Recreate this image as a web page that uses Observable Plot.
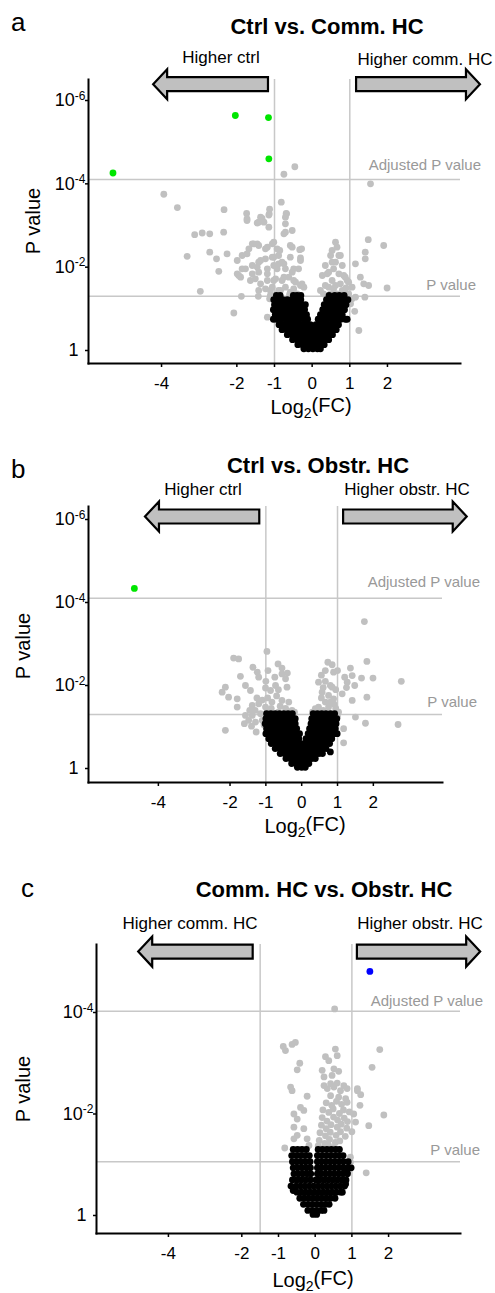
<!DOCTYPE html>
<html><head><meta charset="utf-8">
<script src="https://cdn.jsdelivr.net/npm/d3@7"></script>
<script src="https://cdn.jsdelivr.net/npm/@observablehq/plot@0.6"></script>
<style>
body{margin:0;background:#fff;}
svg{display:block;}
g[aria-label="x-axis tick label"] text{font-size:17px;}
g[aria-label="y-axis tick label"] text{font-size:18px;}
</style>
</head><body><div id="chart"></div>
<script>
// ---------- data (log2FC, -log10 P) ----------
const panelLetters = ["a", "b", "c"];
const titles = ["Ctrl vs. Comm. HC", "Ctrl vs. Obstr. HC", "Comm. HC vs. Obstr. HC"];
const leftLabels = ["Higher ctrl", "Higher ctrl", "Higher comm. HC"];
const rightLabels = ["Higher comm. HC", "Higher obstr. HC", "Higher obstr. HC"];
const xTicks = [-4, -2, -1, 0, 1, 2];
const yTicks = [[1e-6, 1e-4, 1e-2, 1], [1e-6, 1e-4, 1e-2, 1], [1e-4, 1e-2, 1]];
const fcCutoffs = [[-1, 1], [-1, 1], [-1.5, 1]];
const pCutoffs = [0.05, 0.05, 0.087];
const adjCutoffs = [7.9e-5, 7.9e-5, 9.5e-5];

const grayA = [
[-0.75,4.23],[-0.46,4.41],[1.55,4.0],[-3.94,3.75],[-3.58,3.43],[-2.34,3.38],[-0.82,3.56],[-0.69,3.29],[-1.13,3.39],[-1.15,3.25],[-1.74,3.29],[-1.33,3.17],
[-1.73,3.12],[-1.42,3.08],[-1.15,2.96],[-0.71,3.04],[-0.71,3.2],[-0.71,2.84],[-0.53,2.88],
[-1.73,3.16],[-1.37,3.2],[-1.14,3.28],[-0.68,3.28],[-1.46,3.06],[-1.28,3.08],[-0.75,2.8],
[-3.12,2.78],[-2.92,2.82],[-2.72,2.8],[-2.35,2.84],[-3.32,2.26],[-2.72,2.36],[-2.54,2.2],[-2.26,2.32],[-2.48,1.9],[-2.97,1.42],[-2.08,0.9],
[-1.99,2.16],[-1.99,1.84],[-1.88,1.3],[-1.43,1.3],[-1.19,0.8],[-1.55,2.56],[-1.68,2.44],[-1.73,2.32],[-1.46,2.56],[-1.19,2.48],[-1.02,2.6],[-0.86,2.4],[-0.58,2.52],[-0.33,2.42],[-0.58,2.24],[-0.75,2.08],[-0.49,1.96],[-0.31,2.16],[-1.46,2.0],[-1.19,1.84],[-0.93,1.96],[-1.02,1.68],[-0.75,1.76],[-0.49,1.68],[-0.27,1.6],[-0.22,1.52],[-1.37,1.6],[-1.64,1.68],[-1.9,1.76],[-1.11,1.44],[-0.84,1.44],[-0.58,1.4],[-1.13,1.24],[-1.37,2.16],[-1.02,2.24],[-0.89,2.08],
[-1.86,2.28],[-1.59,2.56],[-1.42,2.52],[-1.24,2.44],[-1.06,2.56],[-0.93,2.44],[-0.89,2.28],[-1.06,2.24],[-1.24,2.2],[-1.42,2.12],[-1.59,2.04],[-1.77,1.96],[-1.95,1.8],[-1.59,1.84],[-1.42,1.88],[-1.19,1.96],[-1.02,2.04],[-0.8,2.12],[-0.71,1.96],[-0.53,1.88],[-0.36,1.96],[-0.62,1.76],[-0.8,1.68],[-0.97,1.72],[-1.19,1.68],[-1.51,1.72],[-1.24,1.48],[-1.06,1.52],[-0.89,1.44],[-0.71,1.52],[-0.49,1.48],[-0.31,1.56],[-0.44,1.64],[-1.42,1.44],[-1.11,1.32],[-1.86,1.96],[-0.28,2.44],[-0.31,2.22],[-0.53,2.48],[-0.6,1.34],[-0.4,1.36],[-0.95,1.34],
[0.62,2.6],[0.66,2.48],[0.71,2.28],[0.53,2.12],[0.8,2.04],[0.57,1.96],[0.4,1.84],[0.27,1.8],[0.71,1.84],[0.88,1.76],[0.53,1.68],[0.75,1.6],[0.97,1.64],[0.35,1.56],[0.57,1.48],[0.8,1.44],[0.49,1.36],[1.06,1.52],[1.15,1.28],[1.28,1.76],[1.37,1.6],[1.5,1.56],[1.15,2.08],[1.41,2.36],[1.41,2.2],[1.49,2.66],[1.9,2.52],[1.99,1.5],[1.13,0.94],[1.24,0.48],[1.06,1.24],[1.02,1.12],
[0.49,2.28],[0.75,2.28],[0.62,2.12],[0.44,1.88],[0.84,1.8],[0.93,1.68],[0.22,1.44],[0.66,1.36],[0.97,1.36],[0.35,2.04],[0.53,2.4],[1.4,1.28],[0.3,1.36],[0.85,1.36],[0.44,1.52],[0.62,1.56],[0.9,1.5]
];
const blackA = [
[1.32,[-0.95,-0.85,-0.5,-0.4,-0.3,0.45,0.6,0.72,0.85]],
[1.22,[-1.02,-0.9,-0.78,-0.66,-0.54,-0.42,-0.3,0.38,0.5,0.62,0.74,0.86,0.95]],
[1.1,[-1.0,-0.88,-0.76,-0.64,-0.52,-0.4,-0.28,-0.18,0.32,0.44,0.56,0.68,0.8,0.9]],
[0.98,[-1.03,-0.9,-0.78,-0.66,-0.54,-0.42,-0.3,-0.2,0.28,0.4,0.52,0.64,0.76,0.86]],
[0.86,[-0.98,-0.86,-0.74,-0.62,-0.5,-0.38,-0.26,-0.15,0.22,0.34,0.46,0.58,0.7,0.8]],
[0.75,[-1.03,-0.95,-0.82,-0.7,-0.58,-0.46,-0.34,-0.22,-0.12,0.16,0.28,0.4,0.52,0.64,0.76,0.88,0.93]],
[0.62,[-0.88,-0.76,-0.64,-0.52,-0.4,-0.28,-0.16,-0.05,0.1,0.22,0.34,0.46,0.58,0.7]],
[0.5,[-0.8,-0.68,-0.56,-0.44,-0.32,-0.2,-0.08,0.04,0.16,0.28,0.4,0.52,0.64]],
[0.38,[-0.66,-0.54,-0.42,-0.3,-0.18,-0.06,0.06,0.18,0.3,0.42,0.54]],
[0.26,[-0.52,-0.4,-0.28,-0.16,-0.04,0.08,0.2,0.32,0.44]],
[0.14,[-0.38,-0.26,-0.14,-0.02,0.1,0.22,0.32]],
[0.04,[-0.22,-0.1,0.02,0.14,0.22]]
];
const greenA = [[-5.29,4.26],[-2.04,5.64],[-1.16,5.59],[-1.15,4.6]];

const grayB = [
[1.75,3.54],[-0.97,2.82],[-1.9,2.66],[-1.76,2.64],[-1.36,2.44],[-1.24,2.32],[-1.2,2.2],[-1.71,2.22],[-0.94,2.36],[-0.66,2.52],[-0.55,2.42],[-0.55,2.28],[-0.45,2.16],[-0.41,1.96],[-0.73,2.0],[-1.01,1.94],[-0.87,1.88],[-1.57,2.0],[-1.43,1.88],[-2.13,1.96],[-2.22,1.84],[-2.04,1.72],[-1.8,1.68],[-1.8,1.48],[-1.38,1.52],[-1.2,1.56],[-1.01,1.48],[-0.83,1.6],[-0.55,1.64],[-0.36,1.6],[-0.45,1.45],[-0.27,1.4],[-1.57,1.28],[-1.48,1.16],[-1.38,1.28],[-1.29,1.12],[-2.13,0.92],[-1.27,0.88],[-1.15,1.32],[-0.97,1.36],[-1.1,1.16],
[-1.25,1.7],[-1.1,1.65],[-0.95,1.7],[-0.7,1.75],[-0.6,1.5],[-0.85,1.45],[-1.3,1.4],[-1.45,1.4],[-0.65,1.36],[-0.35,1.35],[-0.9,1.2],[-1.05,1.05],[-1.4,1.02],[-1.6,1.08],[-0.2,1.36],[-0.75,2.2],[-0.65,1.9],[-0.4,2.3],[-1.0,2.1],[-0.8,1.3],
[0.73,2.56],[0.66,2.36],[0.89,2.32],[1.0,2.36],[1.36,2.42],[1.41,2.24],[1.82,2.58],[1.99,2.18],[1.67,2.18],[1.48,2.0],[1.27,2.08],[2.78,2.1],[1.82,1.72],[1.41,1.64],[1.13,1.8],[0.47,2.08],[0.66,2.1],[0.85,1.96],[0.57,1.84],[0.75,1.76],[0.89,1.68],[0.66,1.6],[0.47,1.48],[0.38,1.44],[0.75,1.48],[1.03,1.36],[1.5,1.24],[1.78,1.09],[2.69,1.06],[1.17,0.96],[1.17,0.62],[0.85,1.32],
[0.3,1.36],[0.45,1.36],[0.6,1.4],[0.7,1.3],[0.95,1.45],[0.55,1.7],[0.8,2.0],[0.95,1.9],[0.6,1.95],[0.9,1.55],[1.0,1.25],[0.8,1.6],[0.55,2.25],[0.85,2.5],[1.2,2.2],[1.25,1.95]
];
const blackB = [
[1.32,[-0.98,-0.86,-0.74,-0.62,-0.5,-0.38,-0.26,0.32,0.44,0.56,0.68,0.8,0.92]],
[1.2,[-1.0,-0.88,-0.76,-0.64,-0.52,-0.4,-0.28,-0.18,0.28,0.4,0.52,0.64,0.76,0.88,0.98]],
[1.08,[-1.02,-0.9,-0.78,-0.66,-0.54,-0.42,-0.3,-0.18,0.26,0.38,0.5,0.62,0.74,0.86,0.96]],
[0.96,[-0.98,-0.86,-0.74,-0.62,-0.5,-0.38,-0.26,-0.14,0.22,0.34,0.46,0.58,0.7,0.82,0.94]],
[0.84,[-1.0,-0.88,-0.76,-0.64,-0.52,-0.4,-0.28,-0.16,-0.06,0.18,0.3,0.42,0.54,0.66,0.78,0.9,0.99]],
[0.72,[-0.92,-0.8,-0.68,-0.56,-0.44,-0.32,-0.2,-0.08,0.12,0.24,0.36,0.48,0.6,0.72,0.84]],
[0.6,[-0.85,-0.73,-0.61,-0.49,-0.37,-0.25,-0.13,-0.02,0.08,0.2,0.32,0.44,0.56,0.68,0.78]],
[0.48,[-0.74,-0.62,-0.5,-0.38,-0.26,-0.14,-0.02,0.1,0.22,0.34,0.46,0.58,0.68]],
[0.4,[0.8]],
[0.36,[-0.6,-0.48,-0.36,-0.24,-0.12,0.0,0.12,0.24,0.36,0.48,0.58]],
[0.24,[-0.44,-0.32,-0.2,-0.08,0.04,0.16,0.28,0.38]],
[0.12,[-0.28,-0.16,-0.04,0.08,0.2]],
[0.03,[-0.12,0.0,0.1]]
];
const greenB = [[-4.67,4.34]];

const grayC = [
[0.53,4.07],[-0.87,3.33],[-0.81,3.25],[-0.63,3.37],[-0.54,3.41],[-0.42,3.0],[-0.49,2.87],[0.55,3.28],[0.6,3.15],[0.28,3.13],[0.37,3.05],[1.76,3.27],[1.55,2.92],[0.19,2.86],[0.51,2.89],[0.64,2.84],[0.24,2.73],[0.46,2.76],[-0.67,2.53],[0.24,2.56],[0.42,2.6],[0.6,2.61],[0.78,2.56],[1.15,2.5],
[-0.63,2.46],[-0.22,2.35],[0.33,2.5],[0.51,2.53],[0.69,2.46],[0.87,2.5],[1.15,2.46],[1.24,2.38],[0.42,2.36],[0.64,2.33],[0.83,2.3],
[-0.4,2.13],[-0.31,2.07],[-0.58,2.0],[-0.49,1.9],[-0.58,1.74],[-0.31,1.71],[-0.49,1.58],[-0.58,1.51],[-0.22,1.51],[-0.17,1.38],[-0.83,1.33],
[0.3,2.22],[0.45,2.17],[0.58,2.25],[0.72,2.19],[0.87,2.23],
[0.21,2.08],[0.37,2.03],[0.49,2.1],[0.66,2.01],[0.77,2.08],[0.93,2.04],
[0.19,1.93],[0.32,1.86],[0.5,1.94],[0.61,1.88],[0.79,1.92],[0.88,1.85],
[0.17,1.78],[0.3,1.71],[0.43,1.79],[0.6,1.74],[0.71,1.8],[0.86,1.72],
[0.13,1.63],[0.28,1.57],[0.41,1.64],[0.57,1.58],[0.69,1.65],[0.82,1.56],
[0.11,1.48],[0.26,1.42],[0.39,1.5],[0.55,1.44],[0.67,1.47],
[0.08,1.37],[0.22,1.32],[0.36,1.39],[0.5,1.34],
[1.1,1.84],[1.22,2.17],[1.46,1.77],[1.87,1.98],[0.96,1.15],[0.96,1.05],[1.39,0.84],[1.0,1.65],[1.05,2.0]
];
const blackC = [
[1.3,[-0.6,-0.48,-0.36,-0.24,0.08,0.2,0.32,0.44,0.56,0.66]],
[1.18,[-0.64,-0.52,-0.4,-0.28,-0.16,0.06,0.18,0.3,0.42,0.54,0.66,0.76]],
[1.06,[-0.62,-0.5,-0.38,-0.26,-0.14,0.06,0.17,0.29,0.41,0.53,0.65,0.77,0.9]],
[0.94,[-0.6,-0.48,-0.36,-0.24,-0.13,0.06,0.16,0.28,0.4,0.52,0.64,0.76,0.88,0.98]],
[0.85,[0.87]],
[0.82,[-0.58,-0.46,-0.34,-0.22,-0.12,0.06,0.16,0.28,0.4,0.52,0.64,0.76,0.88]],
[0.7,[-0.62,-0.5,-0.38,-0.26,-0.13,0.02,0.12,0.24,0.36,0.48,0.6,0.72,0.84]],
[0.62,[0.83]],
[0.58,[-0.66,-0.52,-0.4,-0.28,-0.16,-0.04,0.08,0.2,0.32,0.44,0.56,0.68,0.8]],
[0.49,[-0.6]],
[0.46,[-0.5,-0.38,-0.26,-0.14,-0.02,0.1,0.22,0.34,0.46,0.58,0.7,0.74]],
[0.34,[-0.42,-0.3,-0.18,-0.06,0.06,0.18,0.3,0.42,0.54]],
[0.22,[-0.32,-0.2,-0.08,0.04,0.16,0.28,0.38]],
[0.1,[-0.2,-0.08,0.04,0.16,0.24]],
[0.02,[-0.06,0.04]]
];
const blueC = [[1.49,4.81]];

const grayPoints = [grayA, grayB, grayC];
const blackRows = [blackA, blackB, blackC];
const sigPoints = [greenA, greenB, blueC];
const sigColors = ["#00e600", "#00e600", "#0000ff"];

// ---------- layout (pixels) ----------
const FONT = '"Liberation Sans", Arial, Helvetica, sans-serif';
const layout = [
 {height:420, mt:79, mb:57, ml:88, mr:35, xDomain:[-5.94,3.94], vDomain:[-0.312,6.504],
  letter:[11,31], title:[327,34], leftLab:[221,63], rightLab:[425,65], arrowLevel:6.38,
  arrows:[[-1.16,-4.21],[1.18,4.47]], yTitle:[40,221], xTitle:[311,51], adjLab:[481,-9], pLab:[476,-6]},
 {height:420, mt:86, mb:58, ml:88, mr:53, xDomain:[-5.95,3.93], vDomain:[-0.337,6.313],
  letter:[11,58], title:[318,53], leftLab:[203,75], rightLab:[407,75], arrowLevel:6.06,
  arrows:[[-1.17,-4.36],[1.17,4.62]], yTitle:[29.5,226], xTitle:[305,51], adjLab:[480,-11], pLab:[477,-7]},
 {height:453, mt:104, mb:60, ml:96, mr:35, xDomain:[-5.96,3.96], vDomain:[-0.355,5.34],
  letter:[21,57], title:[324,57], leftLab:[190,89], rightLab:[420,89], arrowLevel:5.19,
  arrows:[[-1.69,-4.81],[1.15,4.51]], yTitle:[30,249], xTitle:[313,54], adjLab:[483,-5], pLab:[480,-6]}
];

const toP = v => Math.pow(10, -v);
const W = 495;
const container = document.getElementById("chart");

layout.forEach((L, i) => {
  const gray = grayPoints[i].map(([x, v]) => ({x, p: toP(v)}));
  const black = blackRows[i].flatMap(([v, xs]) => xs.map(x => ({x, p: toP(v)})));
  const sig = sigPoints[i].map(([x, v]) => ({x, p: toP(v)}));
  const lineColor = "#c8c8c8";
  const plot = Plot.plot({
    width: W, height: L.height,
    marginLeft: L.ml, marginRight: L.mr, marginTop: L.mt, marginBottom: L.mb,
    style: {fontFamily: FONT, background: "white", overflow: "visible", color: "black"},
    x: {domain: L.xDomain},
    y: {type: "log", domain: [toP(L.vDomain[0]), toP(L.vDomain[1])]},
    marks: [
      Plot.ruleX(fcCutoffs[i], {stroke: lineColor, strokeWidth: 1.5}),
      Plot.ruleY([adjCutoffs[i], pCutoffs[i]], {stroke: lineColor, strokeWidth: 1.5}),
      Plot.dot(gray, {x: "x", y: "p", r: 3.4, fill: "#c0c0c0", stroke: "none"}),
      Plot.dot(black, {x: "x", y: "p", r: 3.4, fill: "black", stroke: "none"}),
      Plot.dot(sig, {x: "x", y: "p", r: 3.4, fill: sigColors[i], stroke: "none"}),
      Plot.axisX({ticks: xTicks, tickFormat: d => String(d), tickSize: 4, tickPadding: 9, label: null, strokeWidth: 1.5}),
      Plot.axisY({ticks: yTicks[i], tickFormat: d => d === 1 ? "1" : "10^" + Math.round(Math.log10(d)), tickSize: 3, tickPadding: 0, label: null, strokeWidth: 1.5}),
      Plot.frame({anchor: "left", stroke: "black", strokeWidth: 2}),
      Plot.frame({anchor: "bottom", stroke: "black", strokeWidth: 2})
    ]
  });

  const svg = d3.select(plot);
  const sx = plot.scale("x") && plot.scale("x").apply ? v => plot.scale("x").apply(v)
    : v => L.ml + (v - L.xDomain[0]) / (L.xDomain[1] - L.xDomain[0]) * (W - L.ml - L.mr);
  const sy = plot.scale("y") && plot.scale("y").apply ? p => plot.scale("y").apply(p)
    : p => (L.height - L.mb) - ((-Math.log10(p)) - L.vDomain[0]) / (L.vDomain[1] - L.vDomain[0]) * (L.height - L.mt - L.mb);

  // superscript y tick labels
  svg.selectAll('g[aria-label="y-axis tick label"] text').each(function () {
    const t = this.textContent;
    const s = d3.select(this);
    if (t.startsWith("10^")) {
      s.text("");
      s.append("tspan").text("10");
      s.append("tspan").attr("dy", "-0.55em").attr("font-size", "12px").text(t.slice(3));
    } else {
      s.attr("dx", -7);
    }
  });

  // arrows
  const yc = sy(toP(L.arrowLevel));
  L.arrows.forEach(([from, to]) => {
    const xb = sx(from), xt = sx(to), s = Math.sign(xt - xb);
    const hl = 14, H = 15, h = 7;
    const pts = [[xb, yc - h], [xt - s * hl, yc - h], [xt - s * hl, yc - H], [xt, yc],
                 [xt - s * hl, yc + H], [xt - s * hl, yc + h], [xb, yc + h]];
    svg.append("polygon").attr("points", pts.map(p => p.join(",")).join(" "))
      .attr("fill", "#c0c0c0").attr("stroke", "black").attr("stroke-width", 2.2)
      .attr("stroke-linejoin", "miter");
  });

  const txt = (x, y, str, opts = {}) => {
    const t = svg.append("text").attr("x", x).attr("y", y).attr("font-family", FONT)
      .attr("font-size", opts.size || 17).attr("fill", opts.fill || "black")
      .attr("text-anchor", opts.anchor || "middle").text(str);
    if (opts.weight) t.attr("font-weight", opts.weight);
    return t;
  };
  txt(L.letter[0], L.letter[1], panelLetters[i], {size: 26, anchor: "start"});
  txt(L.title[0], L.title[1], titles[i], {size: 22, weight: "bold"});
  txt(L.leftLab[0], L.leftLab[1], leftLabels[i], {size: 17});
  txt(L.rightLab[0], L.rightLab[1], rightLabels[i], {size: 17});
  txt(L.adjLab[0], sy(adjCutoffs[i]) + L.adjLab[1], "Adjusted P value", {size: 15, fill: "#999999", anchor: "end"});
  txt(L.pLab[0], sy(pCutoffs[i]) + L.pLab[1], "P value", {size: 15, fill: "#999999", anchor: "end"});
  svg.append("text").attr("transform", `translate(${L.yTitle[0]},${L.yTitle[1]}) rotate(-90)`)
    .attr("font-family", FONT).attr("font-size", 20).attr("text-anchor", "middle").text("P value");
  const xt = txt(L.xTitle[0], (L.height - L.mb) + L.xTitle[1], "", {size: 20});
  xt.append("tspan").text("Log");
  xt.append("tspan").attr("font-size", 14).attr("dy", "0.3em").text("2");
  xt.append("tspan").attr("dy", "-0.3em").text("(FC)");

  container.appendChild(plot);
});
</script></body></html>
